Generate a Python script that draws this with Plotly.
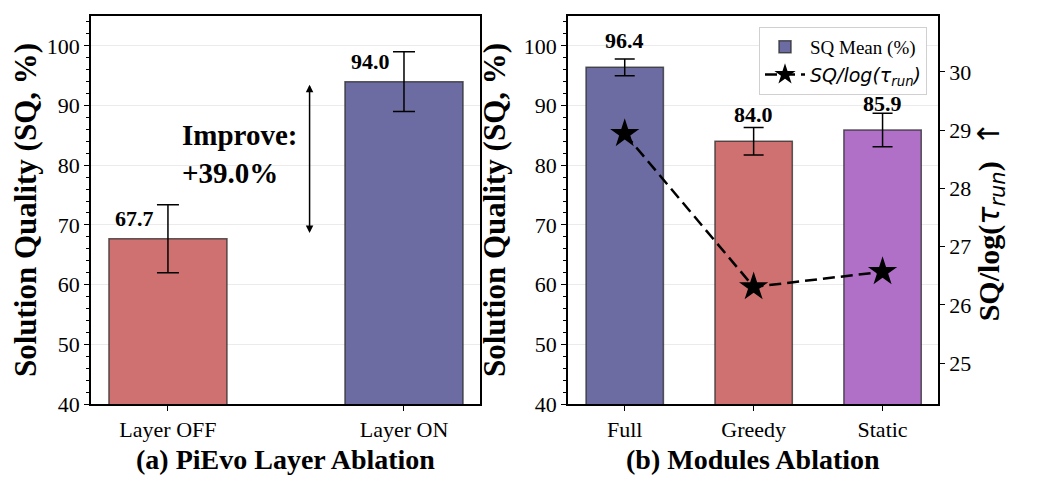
import plotly.graph_objects as go

# panel (a)
layer_cats = ["Layer OFF", "Layer ON"]
layer_sq = [67.7, 94.0]
layer_err = [5.7, 5.0]
improve_pct = 39.0

# panel (b)
mod_cats = ["Full", "Greedy", "Static"]
mod_sq = [96.4, 84.0, 85.9]
mod_err = [1.4, 2.3, 2.8]
mod_ratio = [28.94, 26.31, 26.57]

red = "#d07171"
blue = "#6c6ca3"
purple = "#b070c8"
edge = "rgba(40,40,40,0.75)"

serif = "Liberation Serif"

fig = go.Figure()

fig.add_trace(go.Bar(
    x=layer_cats, y=layer_sq, width=0.5,
    marker=dict(color=[red, blue], line=dict(color=edge, width=1.5)),
    error_y=dict(type="data", array=layer_err, color="black", thickness=1.5, width=11),
    showlegend=False, xaxis="x", yaxis="y",
))

fig.add_trace(go.Bar(
    x=mod_cats, y=mod_sq, width=0.6, name="SQ Mean (%)",
    marker=dict(color=[blue, red, purple], line=dict(color=edge, width=1.5)),
    error_y=dict(type="data", array=mod_err, color="black", thickness=1.5, width=10),
    xaxis="x2", yaxis="y2",
))

fig.add_trace(go.Scatter(
    x=mod_cats, y=mod_ratio, mode="lines+markers",
    name='<span style="font-family:DejaVu Sans"><i>SQ/log(τ<sub>run</sub>)</i></span>',
    line=dict(color="black", width=2.5, dash="12px,6px"),
    marker=dict(symbol="star", size=22, color="black"),
    xaxis="x2", yaxis="y3",
))

# value labels (matplotlib-style: placed a fixed step above the bar top)
for i, v in enumerate(layer_sq):
    fig.add_annotation(x=i - 0.14, y=v + 1.0, xref="x", yref="y", text=f"<b>{v:.1f}</b>",
                       showarrow=False, yanchor="bottom", font=dict(size=22))
for i, v in enumerate(mod_sq):
    fig.add_annotation(x=i, y=v + 2.0, xref="x2", yref="y2", text=f"<b>{v:.1f}</b>",
                       showarrow=False, yanchor="bottom", font=dict(size=22))

# improvement arrow and text
fig.add_annotation(x=0.6, y=layer_sq[1] - 0.5, ax=0.6, ay=layer_sq[0] + 0.7,
                   xref="x", yref="y", axref="x", ayref="y", text="",
                   showarrow=True, arrowhead=2, startarrowhead=2, arrowside="end+start",
                   arrowsize=1, arrowwidth=1.5, arrowcolor="black")
fig.add_annotation(x=0.05, y=81.8, xref="x", yref="y",
                   text=f"<b>Improve:<br>+{improve_pct:.1f}%</b>", showarrow=False,
                   xanchor="left", yanchor="middle", align="left", font=dict(size=29))

# panel titles
fig.add_annotation(x=(285 - 91) / 847, y=-0.1443, xref="paper", yref="paper",
                   xanchor="center", yanchor="middle",
                   text="<b>(a) PiEvo Layer Ablation</b>", showarrow=False,
                   font=dict(size=28))
fig.add_annotation(x=(753 - 91) / 847, y=-0.1443, xref="paper", yref="paper",
                   xanchor="center", yanchor="middle",
                   text="<b>(b) Modules Ablation</b>", showarrow=False,
                   font=dict(size=28))

ax_common = dict(showline=True, linecolor="black", linewidth=1.5, mirror=True,
                 ticks="outside", ticklen=5, tickcolor="black", zeroline=False,
                 automargin=False, tickfont=dict(size=22))
y_common = dict(ax_common, range=[40, 105], dtick=10, showgrid=True,
                gridcolor="rgba(0,0,0,0.08)", gridwidth=1,
                minor=dict(dtick=2, ticks="outside", ticklen=3, tickcolor="black", showgrid=False),
                title=dict(text="<b>Solution Quality (SQ, %)</b>", font=dict(size=31), standoff=9))

# page body adds 8px on the left and top, so the plot box is shifted back by that much
fig.update_layout(
    width=1041, height=485,
    margin=dict(l=83, r=111, t=8, b=89),
    paper_bgcolor="white", plot_bgcolor="white",
    font=dict(family=serif, color="black"),
    xaxis=dict(ax_common, domain=[0, 389 / 847], range=[-0.326, 1.322], anchor="y",
               showgrid=False),
    yaxis=dict(y_common, domain=[0, 1], anchor="x"),
    xaxis2=dict(ax_common, domain=[477 / 847, 1], range=[-0.44, 2.43], anchor="y2",
                showgrid=False),
    yaxis2=dict(y_common, domain=[0, 1], anchor="x2"),
    yaxis3=dict(overlaying="y2", side="right", anchor="x2", range=[24.3, 30.96],
                tickvals=[25, 26, 27, 28, 29, 30], automargin=False,
                showline=True, linecolor="black", linewidth=1.5, ticks="outside", ticklen=5,
                tickcolor="black", showgrid=False, zeroline=False, tickfont=dict(size=22),
                title=dict(text='<b>SQ/log(</b><span style="font-family:DejaVu Sans"><i>τ<sub>run</sub></i></span><b>)</b>'
                                '  <span style="font-family:DejaVu Sans">↑</span>&nbsp;&nbsp;&nbsp;',
                           font=dict(size=30), standoff=4)),
    legend=dict(x=(927 - 91) / 847, y=(404 - 27) / 388, xanchor="right", yanchor="top",
                bgcolor="white", bordercolor="#d0d0d0", borderwidth=1,
                font=dict(size=19), itemwidth=40, tracegroupgap=0),
)

fig.write_html("out.html")
